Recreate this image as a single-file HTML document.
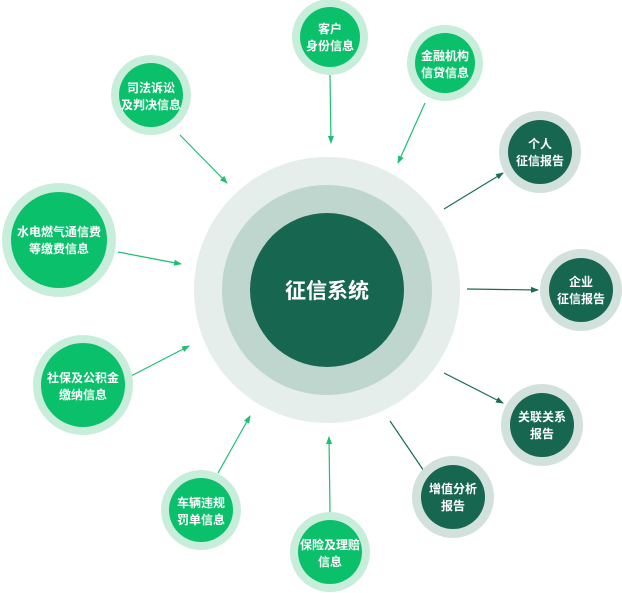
<!DOCTYPE html>
<html><head><meta charset="utf-8"><style>
html,body{margin:0;padding:0;background:#fff;}
svg{display:block;}
text{font-family:"Liberation Sans","Noto Sans CJK SC",sans-serif;font-weight:bold;fill:#fff;text-anchor:middle;}
</style></head><body>
<svg width="622" height="593" viewBox="0 0 622 593">
<defs>
<marker id="ag" markerWidth="8" markerHeight="8" refX="7" refY="4" orient="auto" markerUnits="userSpaceOnUse"><path d="M0,1 L8,4 L0,7 z" fill="#1dbf72"/></marker>
<marker id="ad" markerWidth="8" markerHeight="8" refX="7" refY="4" orient="auto" markerUnits="userSpaceOnUse"><path d="M0,1 L8,4 L0,7 z" fill="#1b6d55"/></marker>
</defs>
<circle cx="327" cy="290" r="133" fill="#e5eeeb"/>
<circle cx="327" cy="290" r="105" fill="#bfd6ce"/>
<circle cx="327" cy="290" r="77" fill="#17664f"/>
<text x="327" y="298" font-size="21">征信系统</text>

<g stroke="#1dbf72" stroke-width="1.2" marker-end="url(#ag)">
<line x1="330" y1="75" x2="331" y2="143"/>
<line x1="425" y1="103" x2="398" y2="163"/>
<line x1="180" y1="135" x2="227" y2="183"/>
<line x1="118" y1="252" x2="181" y2="264"/>
<line x1="131" y1="376" x2="189" y2="346"/>
<line x1="218" y1="473" x2="250" y2="416"/>
<line x1="330" y1="513" x2="329" y2="437"/>
</g>
<g stroke="#1b6d55" stroke-width="1.2" marker-end="url(#ad)">
<line x1="444" y1="209" x2="503" y2="173"/>
<line x1="467" y1="289" x2="538" y2="290"/>
<line x1="444" y1="373" x2="503" y2="403"/>
<line x1="390" y1="421" x2="428" y2="477"/>
</g>

<g font-size="12">
<circle cx="330" cy="37" r="38" fill="#c8eedb"/><circle cx="330" cy="37" r="30" fill="#0bc06a"/>
<text x="330" y="33">客户</text><text x="330" y="50">身份信息</text>

<circle cx="445" cy="63" r="38" fill="#c8eedb"/><circle cx="445" cy="63" r="30" fill="#0bc06a"/>
<text x="445" y="60">金融机构</text><text x="445" y="77">信贷信息</text>

<circle cx="151" cy="95" r="40" fill="#c8eedb"/><circle cx="151" cy="95" r="32" fill="#0bc06a"/>
<text x="151" y="92">司法诉讼</text><text x="151" y="109">及判决信息</text>

<circle cx="59" cy="240" r="57" fill="#c8eedb"/><circle cx="59" cy="240" r="48" fill="#0bc06a"/>
<text x="59" y="236">水电燃气通信费</text><text x="59" y="253">等缴费信息</text>

<circle cx="83" cy="385" r="50" fill="#c8eedb"/><circle cx="83" cy="385" r="42" fill="#0bc06a"/>
<text x="83" y="382">社保及公积金</text><text x="83" y="399">缴纳信息</text>

<circle cx="201" cy="510" r="40" fill="#c8eedb"/><circle cx="201" cy="510" r="32" fill="#0bc06a"/>
<text x="201" y="507">车辆违规</text><text x="201" y="524">罚单信息</text>

<circle cx="330" cy="552" r="40" fill="#c8eedb"/><circle cx="330" cy="552" r="32" fill="#0bc06a"/>
<text x="330" y="549">保险及理赔</text><text x="330" y="566">信息</text>

<circle cx="540" cy="152" r="41" fill="#d3e1dd"/><circle cx="540" cy="152" r="32" fill="#17664f"/>
<text x="540" y="148">个人</text><text x="540" y="165">征信报告</text>

<circle cx="581" cy="290" r="41" fill="#d3e1dd"/><circle cx="581" cy="290" r="32" fill="#17664f"/>
<text x="581" y="286">企业</text><text x="581" y="303">征信报告</text>

<circle cx="542" cy="425" r="41" fill="#d3e1dd"/><circle cx="542" cy="425" r="32" fill="#17664f"/>
<text x="542" y="421">关联关系</text><text x="542" y="438">报告</text>

<circle cx="453" cy="497" r="41" fill="#d3e1dd"/><circle cx="453" cy="497" r="32" fill="#17664f"/>
<text x="453" y="493">增值分析</text><text x="453" y="510">报告</text>
</g>
</svg>
</body></html>
